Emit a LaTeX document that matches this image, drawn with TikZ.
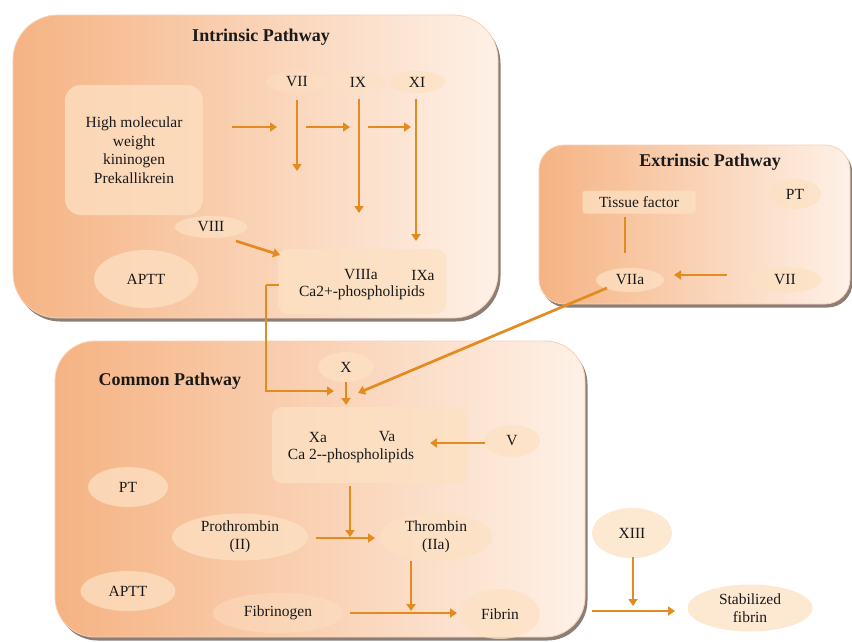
\documentclass[tikz,border=0pt]{standalone}
\usepackage{fontspec}
\setmainfont{Liberation Serif}
\usetikzlibrary{shapes.geometric,shadows,arrows.meta}
\definecolor{arr}{HTML}{E38B1F}
\definecolor{boxL}{HTML}{F5B383}
\definecolor{boxR}{HTML}{FEF1E7}
\definecolor{peach}{HTML}{FDE1C3}
\definecolor{shd}{HTML}{6E5E55}
\definecolor{ink}{HTML}{1A1A1A}
\begin{document}
\begin{tikzpicture}[x=1pt,y=-1pt,
  font=\fontsize{15.5}{18.5}\selectfont, text=ink,
  arrow/.style={draw=arr, line width=2.7pt, -{Triangle[length=7pt,width=9pt]}},
  link/.style={draw=arr, line width=2.7pt},
  oval/.style={ellipse, fill=peach, fill opacity=0.75, text opacity=1, inner sep=0pt, align=center},
  faint/.style={oval, fill opacity=0.45},
  plate/.style={rectangle, fill=peach, fill opacity=0.75, text opacity=1, inner sep=0pt, align=center},
  panel/.style={rectangle, inner sep=0pt, left color=boxL, right color=boxR, draw=boxL!60!white, line width=0.8pt,
    drop shadow={shadow xshift=2.5pt, shadow yshift=-3.5pt, opacity=0.8, fill=shd}},
  ttl/.style={font=\bfseries\fontsize{18}{20}\selectfont}
]
\useasboundingbox (0,0) rectangle (852,641);
\fill[white] (0,0) rectangle (852,641);

% panels
\node[panel, rounded corners=45pt, minimum width=485pt, minimum height=303pt] (intr) at (255.5,166.5) {};
\node[panel, rounded corners=25pt, minimum width=311pt, minimum height=159pt] (extr) at (694.5,224.5) {};
\node[panel, rounded corners=40pt, minimum width=530pt, minimum height=296pt] (comm) at (320,489) {};

% ---------- Intrinsic ----------
\node[ttl] (ti) at (261,37) {Intrinsic Pathway};
\node[plate, rounded corners=16pt, minimum width=138pt, minimum height=130pt] (hmw) at (134,150)
  {High molecular\\weight\\kininogen\\Prekallikrein};
\node[faint, minimum width=62pt, minimum height=22pt] (vii) at (297,82) {VII};
\node[faint, minimum width=56pt, minimum height=22pt] (ix) at (358,82) {IX};
\node[oval, minimum width=56pt, minimum height=22pt] (xi) at (417,82) {XI};
\node[oval, minimum width=72pt, minimum height=22pt] (viii) at (211,227) {VIII};
\node[oval, minimum width=104pt, minimum height=58pt] (aptta) at (146,279) {APTT};
\node[plate, rounded corners=10pt, minimum width=168pt, minimum height=65pt] (cplx) at (362,281.5) {};
\node (viiia) at (361,275) {VIIIa};
\node (ixa) at (423,275) {IXa};
\node (capl) at (362,293) {Ca2+-phospholipids};

\coordinate (h1) at (232,127); \coordinate (h2) at (277,127);
\coordinate (h3) at (306,127); \coordinate (h4) at (350,127);
\coordinate (h5) at (368,127); \coordinate (h6) at (411,127);
\coordinate (v1) at (297,100); \coordinate (v2) at (297,171);
\coordinate (v3) at (359,99);  \coordinate (v4) at (359,213);
\coordinate (v5) at (416,99);  \coordinate (v6) at (416,241);
\coordinate (e1) at (236,241); \coordinate (e2) at (280,255);
\draw[arrow] (h1) -- (h2);
\draw[arrow] (h3) -- (h4);
\draw[arrow] (h5) -- (h6);
\draw[arrow] (v1) -- (v2);
\draw[arrow] (v3) -- (v4);
\draw[arrow] (v5) -- (v6);
\draw[arrow] (e1) -- (e2);

% ---------- Extrinsic ----------
\node[ttl] (te) at (710,162) {Extrinsic Pathway};
\node[plate, rounded corners=3pt, minimum width=113pt, minimum height=23pt] (tf) at (639,202) {Tissue factor};
\node[oval, minimum width=52pt, minimum height=30pt] (pte) at (795,194) {PT};
\node[oval, minimum width=68pt, minimum height=24pt] (viia) at (630,280) {VIIa};
\node[oval, minimum width=72pt, minimum height=26pt] (viie) at (785,280) {VII};
\coordinate (t1) at (625,217); \coordinate (t2) at (625,253);
\coordinate (w1) at (727,275); \coordinate (w2) at (674,275);
\draw[link] (t1) -- (t2);
\draw[arrow] (w1) -- (w2);

% ---------- Common ----------
\node[ttl, anchor=west] (tc) at (95,381) {Common Pathway};
\node[oval, minimum width=55pt, minimum height=30pt] (x) at (346,367) {X};
\node[plate, rounded corners=10pt, minimum width=196pt, minimum height=76pt] (cx) at (370,445) {};
\node (xa) at (318,437) {Xa};
\node (va) at (387,437) {Va};
\node (ca2) at (351,456) {Ca 2-{}-phospholipids};
\node[oval, minimum width=56pt, minimum height=32pt] (v) at (512,441) {V};
\node[oval, minimum width=80pt, minimum height=40pt] (ptc) at (128,487) {PT};
\node[oval, minimum width=136pt, minimum height=47pt] (proth) at (240,537) {Prothrombin\\(II)};
\node[oval, minimum width=113pt, minimum height=47pt] (thromb) at (436,537) {Thrombin\\(IIa)};
\node[oval, minimum width=95pt, minimum height=40pt] (apttb) at (128,591) {APTT};
\node[faint, minimum width=130pt, minimum height=40pt] (fgen) at (278,613) {Fibrinogen};
\node[oval, minimum width=80pt, minimum height=50pt] (fibrin) at (500,614) {Fibrin};

% outside
\node[oval, minimum width=80pt, minimum height=50pt] (xiii) at (632,533) {XIII};
\node[oval, minimum width=125pt, minimum height=47pt] (stab) at (750,608) {Stabilized\\fibrin};

\coordinate (c1) at (279,285); \coordinate (c2) at (266,285);
\coordinate (c3) at (266,391); \coordinate (c4) at (334,391);
\draw[link] (c1) -- (c2);
\draw[arrow] (c2) -- (c3) -- (c4);
\coordinate (x1) at (346,382); \coordinate (x2) at (346,405);
\draw[arrow] (x1) -- (x2);
\coordinate (d1) at (607,288); \coordinate (d2) at (358,393);
\draw[arrow] (d1) -- (d2);
\coordinate (p1) at (485,443); \coordinate (p2) at (430,443);
\draw[arrow] (p1) -- (p2);
\coordinate (q1) at (316,538); \coordinate (q2) at (375,538);
\draw[arrow] (q1) -- (q2);
\coordinate (r1) at (350,486); \coordinate (r2) at (350,537);
\draw[arrow] (r1) -- (r2);
\coordinate (s1) at (411,561); \coordinate (s2) at (411,611);
\draw[arrow] (s1) -- (s2);
\coordinate (f1) at (350,613); \coordinate (f2) at (457,613);
\draw[arrow] (f1) -- (f2);
\coordinate (g1) at (633,557); \coordinate (g2) at (633,606);
\draw[arrow] (g1) -- (g2);
\coordinate (k1) at (592,611); \coordinate (k2) at (675,611);
\draw[arrow] (k1) -- (k2);
\end{tikzpicture}
\end{document}
